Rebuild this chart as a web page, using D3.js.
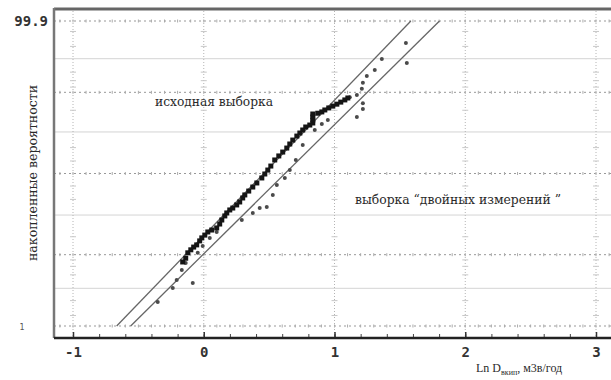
<!DOCTYPE html>
<html>
<head>
<meta charset="utf-8">
<script src="https://cdn.jsdelivr.net/npm/d3@7"></script>
<style>
  body { margin: 0; background: #fff; }
  text.serif { font-family: "DejaVu Serif", "Liberation Serif", serif; fill: #2a2a2a; }
  text.title { font-family: "Liberation Serif", serif; fill: #2a2a2a; }
  .tick-lbl { font-family: "DejaVu Sans Mono", monospace; font-weight: bold; fill: #333; }
</style>
</head>
<body>
<div id="plot"></div>
<script>
// исходная выборка: [ln D, накопленная вероятность, %]
const sampleBase = [
  [-0.161, 3.65], [-0.138, 4.3], [-0.122, 5.4], [-0.099, 6.1], [-0.077, 6.8], [-0.054, 7.4],
  [-0.031, 8.6], [-0.015, 9.6], [0.008, 10.6], [0.031, 11.8], [0.061, 12.6], [0.099, 13.5],
  [0.122, 15.3], [0.138, 17.3], [0.161, 19.5], [0.176, 21.2], [0.199, 23.0], [0.222, 24.2],
  [0.252, 26.2], [0.275, 28.2], [0.298, 31.0], [0.314, 33.2], [0.344, 36.1], [0.375, 39.2],
  [0.406, 42.4], [0.444, 46.4], [0.467, 49.6], [0.490, 52.8], [0.513, 56.0], [0.543, 60.8],
  [0.574, 63.9], [0.604, 66.8], [0.635, 69.7], [0.658, 72.5], [0.681, 75.1], [0.712, 77.6],
  [0.735, 79.4], [0.757, 81.1], [0.780, 82.7], [0.811, 83.7], [0.834, 84.7], [0.834, 86.1],
  [0.834, 87.4], [0.834, 88.6], [0.872, 88.9], [0.903, 89.4], [0.926, 90.1], [0.956, 90.8],
  [0.987, 91.4], [1.018, 92.0], [1.048, 92.6], [1.079, 93.2], [1.102, 93.7]
];

// выборка "двойных измерений"
const sampleDouble = [
  [-0.352, 0.46], [-0.237, 1.02], [-0.207, 1.55], [-0.084, 1.32], [-0.168, 2.53], [-0.138, 3.48],
  [-0.046, 5.4], [-0.008, 7.1], [0.046, 9.6], [0.099, 11.8], [0.291, 17.3], [0.375, 21.2],
  [0.428, 24.2], [0.482, 24.9], [0.528, 33.2], [0.559, 40.8], [0.620, 46.4], [0.658, 52.8],
  [0.704, 60.8], [0.757, 71.8], [0.849, 81.1], [0.903, 84.2], [0.949, 86.1], [1.171, 87.4],
  [1.217, 90.4], [1.217, 92.3], [1.117, 93.9], [1.171, 94.4], [1.209, 95.7], [1.217, 96.7],
  [1.247, 97.6], [1.308, 98.2], [1.362, 98.98], [1.553, 98.74], [1.546, 99.59]
];

// аппроксимирующие прямые: ln D при p = 0.1 % и p = 99.9 %
const lineProb = [0.1, 99.9];
const lineLowX = [-0.666, -0.559];
const lineHighX = [1.584, 1.803];

const xTicks = [-1, 0, 1, 2, 3];
const probDotted = [0.1, 5, 50, 95, 99.9];
const probLight = [1, 20, 80, 99];
const probMinor = [0.2, 0.5, 2, 3, 4, 10, 30, 40, 60, 70, 90, 96, 97, 98, 99.5, 99.8];
const yTickValues = [99.9, 0.1];
const yTickLabels = ["99.9", "1"];

// inverse normal CDF (Acklam)
function probit(p) {
  const a = [-3.969683028665376e+01, 2.209460984245205e+02, -2.759285104469687e+02, 1.383577518672690e+02, -3.066479806614716e+01, 2.506628277459239e+00];
  const b = [-5.447609879822406e+01, 1.615858368580409e+02, -1.556989798598866e+02, 6.680131188771972e+01, -1.328068155288572e+01];
  const c = [-7.784894002430293e-03, -3.223964580411365e-01, -2.400758277161838e+00, -2.549732539343734e+00, 4.374664141464968e+00, 2.938163982698783e+00];
  const d = [7.784695709101559e-03, 3.224671290700398e-01, 2.445134137142996e+00, 3.754408661907416e+00];
  const pl = 0.02425;
  let q, r;
  if (p < pl) {
    q = Math.sqrt(-2 * Math.log(p));
    return (((((c[0]*q+c[1])*q+c[2])*q+c[3])*q+c[4])*q+c[5]) / ((((d[0]*q+d[1])*q+d[2])*q+d[3])*q+1);
  }
  if (p <= 1 - pl) {
    q = p - 0.5; r = q * q;
    return (((((a[0]*r+a[1])*r+a[2])*r+a[3])*r+a[4])*r+a[5])*q / (((((b[0]*r+b[1])*r+b[2])*r+b[3])*r+b[4])*r+1);
  }
  q = Math.sqrt(-2 * Math.log(1 - p));
  return -(((((c[0]*q+c[1])*q+c[2])*q+c[3])*q+c[4])*q+c[5]) / ((((d[0]*q+d[1])*q+d[2])*q+d[3])*q+1);
}

const W = 611, H = 380;
const frame = {left: 54, top: 9, right: 611, bottom: 337};

const svg = d3.select("#plot").append("svg")
  .attr("width", W).attr("height", H);

const x = d3.scaleLinear().domain([-1, 3]).range([73, 596]);
const z = d3.scaleLinear().domain([probit(0.001), probit(0.999)]).range([326, 21]);
const y = p => z(probit(p / 100));

// light solid grid lines
svg.append("g").selectAll("line").data(probLight).enter().append("line")
  .attr("x1", frame.left).attr("x2", frame.right)
  .attr("y1", d => y(d)).attr("y2", d => y(d))
  .attr("stroke", "#d4d4d4").attr("stroke-width", 1);

// dotted grid lines with little ticks
const gDot = svg.append("g");
gDot.selectAll("line.h").data(probDotted).enter().append("line")
  .attr("class", "h")
  .attr("x1", frame.left).attr("x2", frame.right)
  .attr("y1", d => y(d)).attr("y2", d => y(d))
  .attr("stroke", "#999").attr("stroke-width", 1).attr("stroke-dasharray", "2,3");
const smallX = d3.range(-11, 32).map(i => i / 10);
probDotted.forEach(p => {
  gDot.append("g").selectAll("line").data(smallX).enter().append("line")
    .attr("x1", d => x(d)).attr("x2", d => x(d))
    .attr("y1", y(p) - 1.5).attr("y2", y(p) + 1.5)
    .attr("stroke", "#aaa").attr("stroke-width", 1);
});

// vertical grid lines
const gV = svg.append("g");
gV.selectAll("line").data(xTicks).enter().append("line")
  .attr("x1", d => x(d)).attr("x2", d => x(d))
  .attr("y1", frame.top + 2).attr("y2", frame.bottom)
  .attr("stroke", "#b4b4b4").attr("stroke-width", 1).attr("stroke-dasharray", "1,2");
xTicks.forEach(t => {
  gV.append("g").selectAll("line").data(probMinor).enter().append("line")
    .attr("x1", x(t) - 3).attr("x2", x(t) + 3)
    .attr("y1", d => y(d)).attr("y2", d => y(d))
    .attr("stroke", "#c8c8c8").attr("stroke-width", 1);
});

// fitted lines
svg.append("g").selectAll("line").data(lineLowX).enter().append("line")
  .attr("x1", d => x(d)).attr("y1", y(lineProb[0]))
  .attr("x2", (d, i) => x(lineHighX[i])).attr("y2", y(lineProb[1]))
  .attr("stroke", "#666").attr("stroke-width", 1.3);

// samples
svg.append("g").selectAll("circle").data(sampleDouble).enter().append("circle")
  .attr("cx", d => x(d[0])).attr("cy", d => y(d[1]))
  .attr("r", 2).attr("fill", "#4a4a4a");

svg.append("g").selectAll("rect").data(sampleBase).enter().append("rect")
  .attr("x", d => x(d[0]) - 2.5).attr("y", d => y(d[1]) - 2.5)
  .attr("width", 5).attr("height", 5).attr("fill", "#151515");

// frame
svg.append("line").attr("x1", frame.left).attr("x2", frame.right).attr("y1", frame.top).attr("y2", frame.top)
  .attr("stroke", "#666").attr("stroke-width", 3);
svg.append("line").attr("x1", frame.left).attr("x2", frame.left).attr("y1", frame.top - 1).attr("y2", frame.bottom + 1)
  .attr("stroke", "#777").attr("stroke-width", 2.5);

// bottom axis
const minorTicks = d3.range(-5, 16).map(i => i * 0.2);
svg.append("g").attr("transform", "translate(0," + frame.bottom + ")")
  .call(d3.axisBottom(x).tickValues(minorTicks).tickSize(-3).tickFormat(""))
  .call(g => g.select(".domain").remove())
  .call(g => g.selectAll("line").attr("stroke", "#444"));
svg.append("g").attr("transform", "translate(0," + frame.bottom + ")")
  .call(d3.axisBottom(x).tickValues(xTicks).tickSize(-5).tickFormat(d => String(d)))
  .call(g => g.select(".domain").remove())
  .call(g => g.selectAll("line").attr("stroke", "#333").attr("stroke-width", 1.5))
  .call(g => g.selectAll("text").attr("class", "tick-lbl")
    .attr("y", 10).attr("dy", "0.71em").attr("font-size", 14).attr("fill", "#333"));
svg.append("line").attr("x1", frame.left).attr("x2", frame.right).attr("y1", frame.bottom + 1).attr("y2", frame.bottom + 1)
  .attr("stroke", "#222").attr("stroke-width", 2.5);

// y labels
svg.append("text").attr("class", "tick-lbl")
  .attr("x", 48).attr("y", y(yTickValues[0]) + 5)
  .attr("text-anchor", "end").attr("font-size", 14)
  .text(yTickLabels[0]);
svg.append("text")
  .attr("x", 22).attr("y", y(yTickValues[1]) + 4)
  .attr("text-anchor", "middle").attr("font-size", 8).attr("fill", "#555")
  .style("font-family", "DejaVu Sans")
  .text(yTickLabels[1]);

// axis titles
svg.append("text").attr("class", "serif")
  .attr("transform", "translate(37,173) rotate(-90)")
  .attr("text-anchor", "middle").attr("font-size", 13)
  .attr("textLength", 176).attr("lengthAdjust", "spacingAndGlyphs")
  .text("накопленные вероятности");

const xt = svg.append("text").attr("class", "title").attr("x", 476).attr("y", 372).attr("font-size", 12);
xt.append("tspan").text("Ln D");
xt.append("tspan").attr("font-size", 8).attr("dy", 3).text("вкип");
xt.append("tspan").attr("dy", -3).text(", м3в/год");

// annotations
svg.append("text").attr("class", "serif").attr("x", 155).attr("y", 106).attr("font-size", 13)
  .attr("textLength", 118).attr("lengthAdjust", "spacingAndGlyphs")
  .text("исходная выборка");
svg.append("text").attr("class", "serif").attr("x", 355).attr("y", 204).attr("font-size", 13)
  .attr("textLength", 206).attr("lengthAdjust", "spacingAndGlyphs")
  .text("выборка “двойных измерений ”");
</script>
</body>
</html>
